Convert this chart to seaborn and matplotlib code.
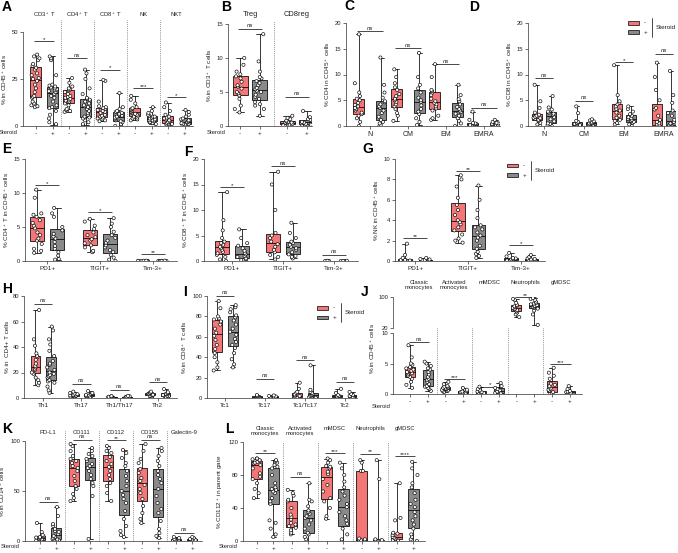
import numpy as np
import pandas as pd
import matplotlib
matplotlib.use('Agg')
import matplotlib.pyplot as plt
from matplotlib.patches import Rectangle
from matplotlib.lines import Line2D
import matplotlib.transforms as mtrans
import seaborn as sns

# ---------------- data ----------------
A_groups = ['CD3$^+$ T', 'CD4$^+$ T', 'CD8$^+$ T', 'NK', 'NKT']
A_neg = [[10,10.5,11,12,13,15,15.5,16,18,20,22,24,25,25.5,27,28,30,31,32,33,35,36,37,38],
         [7.5,8,8.5,9,11,12,13,13.5,14,14.5,15,15.5,16,17,18,19,19.5,20,21,23,25.5],
         [2.5,3,3.5,4,4.5,5,5.5,6,7,7.5,8,8.5,9,9.5,10,10.5,13,24,24.5],
         [3,3.5,4,4.5,5,5.5,6,6.5,7,7.5,8,8.5,9,9.5,10,12,14,16],
         [0.5,0.8,1,1.2,1.5,2,2.5,3,3.5,4,4.5,5,6,8,10,12.5]]
A_pos = [[0.5,1,2,4,6,8,9.5,10,11,13,15,16,17,18,18.5,19,19.5,20,20.5,21,21.5,22,27,35,36,37],
         [0.5,1,2,3,4,4.5,5,6,7,8,9,10,10.5,11,12,13,14,14.5,15,17,20,25,28,30],
         [0,0.5,1,2,2.5,3,3.5,4,4.5,5,5.5,6,6.5,7,7.5,8,9,10,17.5],
         [1,1.5,2,2,2.5,3,3,3.5,3.5,4,4.5,5,5,5.5,6,7,8,10],
         [0,0.2,0.5,0.8,1,1.2,1.5,1.8,2,2.5,3,3.5,4,5,6,7.5,8.5]]
A_sig = ['*', 'ns', '*', '***', '*']

B_groups = ['Treg', 'CD8reg']
B_neg = [[2,2.5,3,4,4.5,4.8,5,5.5,5.8,6,6.5,7,7.3,7.6,8,9,10],
         [0,0.1,0.2,0.3,0.4,0.5,0.5,0.6,0.7,0.8,1.0,1.2,1.5]]
B_pos = [[1.5,2.5,3,3.2,3.5,4,4.3,4.6,5,5.2,5.4,5.6,6,6.3,6.6,7,7.2,8,9.5,13.5],
         [0,0.05,0.1,0.2,0.3,0.4,0.5,0.6,0.7,0.8,0.9,1.0,1.3,2.2]]
B_sig = ['ns', 'ns']

C_groups = ['N', 'CM', 'EM', 'EMRA']
C_neg = [[0,0.8,1.5,2,2.3,2.6,3,3.3,3.5,3.8,4.1,4.5,5,5.3,5.8,6.5,8.3,17.8],
         [1,2,2.5,3.3,3.8,4.2,4.7,5,5.3,5.8,6.2,7,7.5,8.3,9.5,11],
         [1.2,1.5,2,3,3.4,3.8,4.2,4.5,4.8,5.3,6,6.5,6.8,7,9.5,12],
         [0,0.05,0.1,0.2,0.3,0.35,0.4,0.5,0.6,1.2,2.8]]
C_pos = [[0,0.2,0.5,0.8,1.2,1.8,2.5,3,3.5,3.8,4.2,4.6,4.8,5.5,6.5,8,13.3],
         [0.2,0.8,1.5,2.3,2.8,3.3,4,4.7,5,5.5,6.5,7.3,8,9.5,14.2],
         [0,0.5,1,1.5,2,2.4,2.7,3,3.3,3.7,4.2,4.8,5.2,6,8],
         [0,0.05,0.1,0.2,0.3,0.35,0.4,0.5,0.6,0.8,1.2]]
C_sig = ['ns', 'ns', 'ns', 'ns']

D_groups = ['N', 'CM', 'EM', 'EMRA']
D_neg = [[0,0.3,0.6,1,1.2,1.4,1.5,1.6,1.8,2,2.2,2.6,3.5,4.8,8],
         [0,0.1,0.2,0.3,0.4,0.4,0.5,0.6,0.8,1,2.5,3.8],
         [0.3,0.6,1,1.2,1.6,2,2.6,3,3.3,3.8,4.2,4.5,4.8,6,11.8],
         [0,0,0,0.1,0.3,0.5,0.8,1.2,2,3.2,3.5,5,7,9.5,12.3]]
D_pos = [[0,0.2,0.4,0.5,0.9,1.3,1.7,2.2,2.4,2.6,2.8,3.2,3.6,5.8],
         [0,0.1,0.2,0.3,0.4,0.5,0.5,0.6,0.7,0.9,1.1,1.3],
         [0,0.3,0.6,0.8,1,1.2,1.4,1.5,1.7,2,2.3,2.8,3.3,3.8],
         [0,0,0,0.2,0.4,0.5,0.8,1.2,2,2.5,3,4.5,6,10.7]]
D_sig = ['ns', 'ns', '*', 'ns']

E_groups = ['PD1+', 'TIGIT+', 'Tim-3+']
E_neg = [[1.2,1.5,1.8,2.5,3,3.3,3.8,4.2,4.8,5.2,5.6,6,6.5,6.8,7,9.3,10.5],
         [1.3,1.5,2,2.3,2.6,3,3.2,3.5,3.8,4.2,4.7,5.2,5.8,6.2],
         [0,0,0,0.01,0.02,0.03,0.04,0.05]]
E_pos = [[0.2,0.3,0.8,1.3,1.8,2.2,2.8,3.3,3.6,4,4.5,5,6.5,7,7.8],
         [0,0.2,0.5,0.9,1.3,1.6,2,2.3,2.7,3,3.4,3.8,4.3,5,5.5,6.3],
         [0,0,0,0.01,0.02,0.03,0.05]]
E_sig = ['*', '*', '**']

F_groups = ['PD1+', 'TIGIT+', 'Tim-3+']
F_neg = [[0,0.3,0.8,1.2,1.5,1.8,2.2,2.5,2.8,3.2,3.5,3.8,4.5,6,8,13.5],
         [0.3,0.8,1.2,1.7,2.2,2.8,3.3,3.8,4.5,5,5.5,10,15,17.5],
         [0,0,0,0.02,0.05]]
F_pos = [[0,0.2,0.4,0.5,0.8,1,1.3,1.6,2,2.5,3,3.5,4.5,6.2],
         [0.5,0.8,1,1.3,1.7,2.2,2.5,2.8,3.2,3.5,3.8,4.5,5.5,7.5],
         [0,0,0,0.02,0.05]]
F_sig = ['*', 'ns', 'ns']

G_groups = ['PD1+', 'TIGIT+', 'Tim-3+']
G_neg = [[0,0,0,0.02,0.05,0.08,0.1,0.1,0.3,0.6,1.7],
         [1.8,2,2.2,2.6,3,3.3,3.6,3.8,4,4.5,5,5.5,6.2,7.3,8,8.4],
         [0,0.02,0.05,0.1,0.15,0.2,0.25,0.3,0.45,0.8]]
G_pos = [[0,0,0,0.03,0.05,0.08,0.1,0.15,0.2,0.3],
         [0.3,0.5,0.7,0.9,1.2,1.5,2,2.3,2.5,2.8,3.1,3.3,3.5,4.2,5,6,7.4],
         [0,0,0.03,0.05,0.1,0.15,0.2,0.25,0.4,0.6]]
G_sig = ['**', '**', '*']

H_groups = ['Th1', 'Th17', 'Th1/Th17', 'Th2']
H_neg = [[10,12,14,16,19,20,22,23,24,25,27,30,32,33,35,41,46,69],
         [1,1.3,1.7,2,2.3,2.7,3,3.5,4,5],
         [0,0.2,0.4,0.6,0.8,1,1.2,1.5],
         [1,1.5,2,2.3,2.6,3,3.4,3.8,4.3,5]]
H_pos = [[4,6,9,12,13,14,16,17,18,19,20,22,24,26,27,29,33,37,42,46,53,56],
         [0.5,0.8,1.2,1.6,2,2.5,3,3.5,4,5.5],
         [0,0.2,0.4,0.6,0.8,1,1.3,1.6],
         [0.5,1,1.4,1.8,2.2,2.8,3.3,3.8,4.5,7]]
H_sig = ['ns', 'ns', 'ns', 'ns']

I_groups = ['Tc1', 'Tc17', 'Tc1/Tc17', 'Tc2']
I_neg = [[27,30,35,40,44,48,52,57,61,64,68,72,75,77,78,80,88,95],
         [0,0.3,0.6,1,1.5,2,3],
         [0,0.3,0.7,1,1.5,2,2.5,3.5,5,6,9,15],
         [0,0.3,0.6,1,1.5,2,3,5,9]]
I_pos = [[30,33,38,44,49,52,55,58,62,65,68,72,76,79,81,84,87,89,91],
         [0,0.3,0.6,1,1.5,2,2.5],
         [0,0.3,0.7,1.2,2,2.5,3,4,5,6,8,32],
         [0,0.3,0.6,1,1.5,2,3,4,6]]
I_sig = ['ns', 'ns', 'ns', 'ns']

J_groups = ['Classic\nmonocytes', 'Activated\nmonocytes', 'mMDSC', 'Neutrophils', 'gMDSC']
J_neg = [[1,1.5,2,2.5,2.8,3,3.2,3.4,3.5,3.6,3.8,4,4.2,4.4,4.8,5,6,8],
         [0.3,0.5,0.6,0.7,0.8,0.9,1,1,1.1,1.2,1.3,1.6,2],
         [0,0.05,0.1,0.15,0.2,0.3,0.4,0.6,0.8,1.2],
         [48,55,60,63,66,68,70,72,74,76,78,80,85,92,95],
         [0,0.05,0.1,0.3,0.5,0.7,0.9,1.1,1.3,1.5,1.7,2.5,3,3.5,4.3]]
J_pos = [[0.5,0.8,1,1.2,1.3,1.6,2,2.3,2.5,2.8,3.2,3.6,4,4.2,4.6,5,5.3],
         [0,0.05,0.1,0.15,0.2,0.3,0.4,0.5,0.7,1],
         [0,0.1,0.2,0.3,0.4,0.6,0.8,1,1.3,1.8],
         [28,55,65,70,72,74,76,77,79,81,83,85,88,92,95,97],
         [0,0.02,0.05,0.1,0.2,0.3,0.4,0.5,0.8,1.3]]
J_sig = ['ns', '***', '*', '**', '***']

K_groups = ['PD-L1', 'CD111', 'CD112', 'CD155', 'Galectin-9']
K_neg = [[0,0.5,1,1.5,2,3,3.5,4,5,6,9,18],
         [40,43,47,52,55,60,65,70,73,75,78,80,82,85,90,95,97],
         [40,48,55,58,62,66,70,74,77,80,84,88,90,93,95],
         [18,22,28,35,42,48,52,56,60,63,68,72,78,82,90,97],
         [0,0.3,0.6,1,1.5,2,3,4]]
K_pos = [[0,0.5,1,1.5,2,3,4,5,7,9,10,12,15,17,25,34],
         [2,45,55,58,62,66,70,73,75,77,80,82,85,87,90,93],
         [4,6,10,15,22,30,38,42,46,50,55,60,65,70,75,78,83,88,91],
         [3,5,8,12,20,28,32,38,45,52,58,62,66,70,75,80,85,90,93],
         [0,0.3,0.6,1,1.5,2,3,4]]
K_sig = ['ns', 'ns', '**', 'ns', 'ns']

L_groups = ['Classic\nmonocytes', 'Activated\nmonocytes', 'mMDSC', 'Neutrophils', 'gMDSC']
L_neg = [[52,58,63,70,75,78,82,88,92,94,95,96,97,98,99,100,100],
         [8,10,13,16,18,20,22,26,29,32,40,48,50,55,58,62],
         [27,30,40,48,52,60,68,75,81,84,88,90,91,95,98,100],
         [0,0,0,0.5,1,1,2,3,85,85,95,98],
         [0,0.5,1,2,3,4,5,7,9,10,25,28,70]]
L_pos = [[5,8,15,22,25,45,48,52,58,60,62,63,65,70,80,88,90,92,95,97,98],
         [0,2,5,8,10,15,20,25,28,30,33,35,37,42,48,50,70],
         [0,1,2,8,15,21,25,30,35,41,45,50,55,60,65,72,80,88,95],
         [0,0,0,0,0.5,0.5,1,1,2,75,98],
         [0,2,5,8,15,20,25,30,35,41,45,50,58,65,70,80,88,96]]
L_sig = ['**', 'ns', '***', '**', '****']

# ---------------- style ----------------
sns.set_theme(style='ticks')
plt.rcParams['font.family'] = ['Liberation Sans', 'DejaVu Sans']
plt.rcParams['mathtext.default'] = 'regular'
plt.rcParams['axes.facecolor'] = 'white'

RED = '#F47676'
GREY = '#8A8A8A'
TXT = '#222222'

W, H = 678, 553
fig = plt.figure(figsize=(W / 100, H / 100), dpi=100)
fig.patch.set_facecolor('white')


def fx(x):
    return x / W


def fy(y):
    return 1 - y / H


def add_ax(l, t, r, b):
    return fig.add_axes([l / W, 1 - b / H, (r - l) / W, (b - t) / H])


def draw(ax, neg, pos, off, boxw, seed=0):
    rows = []
    for i, (n, p) in enumerate(zip(neg, pos)):
        rows += [(i - off, v, '-') for v in n]
        rows += [(i + off, v, '+') for v in p]
    df = pd.DataFrame(rows, columns=['x', 'y', 's'])
    nw = min(2 * off, 1 - 2 * off)
    sns.boxplot(data=df, x='x', y='y', hue='s', native_scale=True, dodge=False,
                width=boxw / nw, palette={'-': RED, '+': GREY}, saturation=1,
                whis=(0, 100), showfliers=False, linecolor='black', linewidth=0.55,
                legend=False, ax=ax)
    np.random.seed(seed)
    sns.stripplot(data=df, x='x', y='y', hue='s', native_scale=True, dodge=False,
                  jitter=boxw * 0.38 / nw, palette={'-': 'white', '+': 'white'},
                  edgecolor='black', linewidth=0.45, size=2.3, legend=False, ax=ax,
                  zorder=4)


def style(ax, ylim, yticks, xlim, ylabel, fs=4.2):
    ax.set_xlim(*xlim)
    ax.set_ylim(*ylim)
    ax.set_yticks(yticks)
    ax.set_yticklabels([str(t) for t in yticks])
    sns.despine(ax=ax)
    for s in ('left', 'bottom'):
        ax.spines[s].set_linewidth(0.5)
        ax.spines[s].set_color('#333333')
    ax.tick_params(axis='both', width=0.5, length=2, labelsize=fs, pad=1.5,
                   colors='#333333', labelcolor=TXT)
    ax.set_xlabel('')
    ax.set_ylabel(ylabel, fontsize=4.6, labelpad=2, color=TXT)


def pm_ticks(ax, n, off):
    ticks, labels = [], []
    for i in range(n):
        ticks += [i - off, i + off]
        labels += ['-', '+']
    ax.set_xticks(ticks)
    ax.set_xticklabels(labels, fontsize=4.6)


def name_ticks(ax, names, fs=5):
    ax.set_xticks(range(len(names)))
    ax.set_xticklabels(names, fontsize=fs)


def seps(ax, n, top=1.0):
    for i in range(n - 1):
        ax.axvline(i + 0.5, ymin=0, ymax=top, color='#777777', ls=(0, (1, 1.3)),
                   lw=0.6, clip_on=False, zorder=0)


def sig(ax, i, off, y, txt, ext=0.04):
    ax.plot([i - off - ext, i + off + ext], [y, y], color='black', lw=0.5,
            clip_on=False, solid_capstyle='butt')
    if txt == 'ns':
        ax.annotate(txt, (i, y), xytext=(0, 0.4), textcoords='offset points',
                    ha='center', va='bottom', fontsize=4.4, style='italic',
                    annotation_clip=False, color=TXT)
    else:
        ax.annotate(txt, (i, y), xytext=(0, -0.6), textcoords='offset points',
                    ha='center', va='bottom', fontsize=4.6,
                    annotation_clip=False, color=TXT)


def titles(ax, names, ypx, fs=4.4, va='center'):
    tr = mtrans.blended_transform_factory(ax.transData, fig.transFigure)
    for i, t in enumerate(names):
        ax.text(i, fy(ypx), t, transform=tr, ha='center', va=va, fontsize=fs,
                linespacing=1.0, color=TXT)


def legend(x, y):
    for k, (c, lab) in enumerate([(RED, '-'), (GREY, '+')]):
        yy = y + k * 9.5
        fig.add_artist(Rectangle((fx(x), fy(yy + 3.5)), 11 / W, 3.5 / H,
                                 transform=fig.transFigure, facecolor=c,
                                 edgecolor='black', lw=0.5))
        fig.text(fx(x + 16), fy(yy + 1.9), lab, fontsize=4.6, ha='left',
                 va='center', color=TXT)
    fig.add_artist(Line2D([fx(x + 24)] * 2, [fy(y - 3), fy(y + 16)],
                          transform=fig.transFigure, color='black', lw=0.5))
    fig.text(fx(x + 28), fy(y + 6.5), 'Steroid', fontsize=4.6, va='center',
             ha='left', color=TXT)


def letter(ch, x, y):
    fig.text(fx(x), fy(y), ch, fontsize=10, fontweight='bold', ha='center',
             va='center', color='black')


def steroid(xr, y):
    fig.text(fx(xr), fy(y), 'Steroid', fontsize=4.2, ha='right', va='center',
             color=TXT)


# ---------------- A ----------------
ax = add_ax(23, 32, 193, 126)
off = 0.26
draw(ax, A_neg, A_pos, off, 0.33, 1)
style(ax, (0, 50), [0, 25, 50], (-0.64, 4.5), '% in CD45$^+$ cells')
pm_ticks(ax, 5, off)
seps(ax, 5, top=1.13)
titles(ax, A_groups, 15, fs=4.2)
for i, (h, t) in enumerate(zip([45, 36, 30, 20, 15.5], A_sig)):
    sig(ax, i, off, h, t)
steroid(18, 133)
letter('A', 7, 7)

# ---------------- B ----------------
ax = add_ax(228, 24, 312, 126)
off = 0.21
draw(ax, B_neg, B_pos, off, 0.32, 2)
style(ax, (0, 15), [0, 5, 10, 15], (-0.47, 1.32), '% in CD3$^+$ T cells')
pm_ticks(ax, 2, off)
seps(ax, 2, top=1.03)
titles(ax, B_groups, 15, fs=5.4)
for i, (h, t) in enumerate(zip([14.3, 4.3], B_sig)):
    sig(ax, i, off, h, t)
steroid(226, 133)
letter('B', 226, 7)

# ---------------- C ----------------
ax = add_ax(346, 23, 500, 126)
off = 0.3
draw(ax, C_neg, C_pos, off, 0.27, 3)
style(ax, (0, 20), [0, 5, 10, 15, 20], (-0.63, 3.42), '% CD4 in CD45$^+$ cells')
name_ticks(ax, C_groups)
for i, (h, t) in enumerate(zip([18.4, 15.1, 12, 3.5], C_sig)):
    sig(ax, i, off, h, t)
letter('C', 349, 6)

# ---------------- D ----------------
ax = add_ax(528, 23, 676, 126)
off = 0.175
draw(ax, D_neg, D_pos, off, 0.23, 4)
style(ax, (0, 20), [0, 5, 10, 15, 20], (-0.4, 3.3), '% CD8 in CD45$^+$ cells')
name_ticks(ax, D_groups)
for i, (h, t) in enumerate(zip([9.3, 4.9, 12.4, 14], D_sig)):
    sig(ax, i, off, h, t)
legend(628, 21)
letter('D', 474, 7)

# ---------------- E ----------------
ax = add_ax(25, 159, 177, 261)
off = 0.19
draw(ax, E_neg, E_pos, off, 0.27, 5)
style(ax, (0, 15), [0, 5, 10, 15], (-0.42, 2.45), '% CD4$^+$ T in CD45$^+$ cells')
name_ticks(ax, E_groups, fs=4.6)
for i, (h, t) in enumerate(zip([11.2, 7.2, 1.0], E_sig)):
    sig(ax, i, off, h, t)
letter('E', 7, 149)

# ---------------- F ----------------
ax = add_ax(204, 159, 358, 261)
off = 0.2
draw(ax, F_neg, F_pos, off, 0.28, 6)
style(ax, (0, 20), [0, 5, 10, 15, 20], (-0.55, 2.47), '% CD8$^+$ T in CD45$^+$ cells')
name_ticks(ax, F_groups, fs=4.6)
for i, (h, t) in enumerate(zip([14.5, 18.6, 1.2], F_sig)):
    sig(ax, i, off, h, t)
letter('F', 188, 152)

# ---------------- G ----------------
ax = add_ax(395, 159, 545, 261)
off = 0.19
draw(ax, G_neg, G_pos, off, 0.25, 7)
style(ax, (0, 10), [0, 2, 4, 6, 8, 10], (-0.38, 2.45), '% NK in CD45$^+$ cells')
name_ticks(ax, G_groups, fs=4.6)
for i, (h, t) in enumerate(zip([2.25, 8.8, 1.55], G_sig)):
    sig(ax, i, off, h, t)
legend(507, 164)
letter('G', 368, 149)

# ---------------- H ----------------
ax = add_ax(24, 296, 177, 398)
off = 0.2
draw(ax, H_neg, H_pos, off, 0.26, 8)
style(ax, (0, 80), [0, 20, 40, 60, 80], (-0.5, 3.5), '% in  CD4+ T cells')
name_ticks(ax, H_groups, fs=4.6)
for i, (h, t) in enumerate(zip([73.7, 11, 6.3, 12.5], H_sig)):
    sig(ax, i, off, h, t)
letter('H', 7, 289)

# ---------------- I ----------------
ax = add_ax(207, 296, 357, 398)
off = 0.19
draw(ax, I_neg, I_pos, off, 0.25, 9)
style(ax, (0, 100), [0, 20, 40, 60, 80, 100], (-0.45, 3.3), '% in CD8$^+$ T cells')
name_ticks(ax, I_groups, fs=4.6)
for i, (h, t) in enumerate(zip([100, 18.6, 37, 15.7], I_sig)):
    sig(ax, i, off, h, t)
legend(317, 306)
letter('I', 185, 292)

# ---------------- J (broken axis) ----------------
off = 0.25
axb = add_ax(393, 333, 582, 394)
axt = add_ax(393, 297, 582, 328)
draw(axb, J_neg, J_pos, off, 0.28, 10)
draw(axt, J_neg, J_pos, off, 0.28, 10)
style(axb, (0, 10), [0, 5, 10], (-0.73, 4.6), '% in CD45$^+$ cells')
style(axt, (20, 100), [20, 100], (-0.73, 4.6), '')
axt.spines['bottom'].set_visible(False)
axt.set_xticks([])
pm_ticks(axb, 5, off)
axb.yaxis.set_label_coords(-0.085, 0.75)
seps(axb, 5, top=(394 - 297) / 61)
titles(axb, J_groups, 280, fs=4.2, va='top')
for i, (h, t) in enumerate(zip([8.5, 2.5, 1.2, None, 4.9], J_sig)):
    if h is None:
        sig(axt, i, off, 100, t)
    else:
        sig(axb, i, off, h, t)
steroid(391, 407)
letter('J', 365, 292)

# ---------------- K ----------------
ax = add_ax(25, 441, 202, 541)
off = 0.24
draw(ax, K_neg, K_pos, off, 0.3, 11)
style(ax, (0, 100), [0, 50, 100], (-0.68, 4.53), '% in CD14$^+$ cells')
pm_ticks(ax, 5, off)
seps(ax, 5, top=1.11)
titles(ax, K_groups, 432, fs=4.2)
for i, (h, t) in enumerate(zip([39, 101, 101, 101, 8], K_sig)):
    sig(ax, i, off, h, t)
steroid(20, 547)
letter('K', 7, 429)

# ---------------- L ----------------
ax = add_ax(243, 442, 425, 541)
off = 0.24
draw(ax, L_neg, L_pos, off, 0.31, 12)
style(ax, (0, 120), [0, 40, 80, 120], (-0.63, 4.57), '% CD112$^+$ in parent gate')
pm_ticks(ax, 5, off)
seps(ax, 5, top=1.0)
titles(ax, L_groups, 426, fs=4.2, va='top')
for i, (h, t) in enumerate(zip([107, 78, 107, 106, 103], L_sig)):
    sig(ax, i, off, h, t)
steroid(238, 547)
letter('L', 229, 429)

fig.savefig('out.png', dpi=100, facecolor='white')
